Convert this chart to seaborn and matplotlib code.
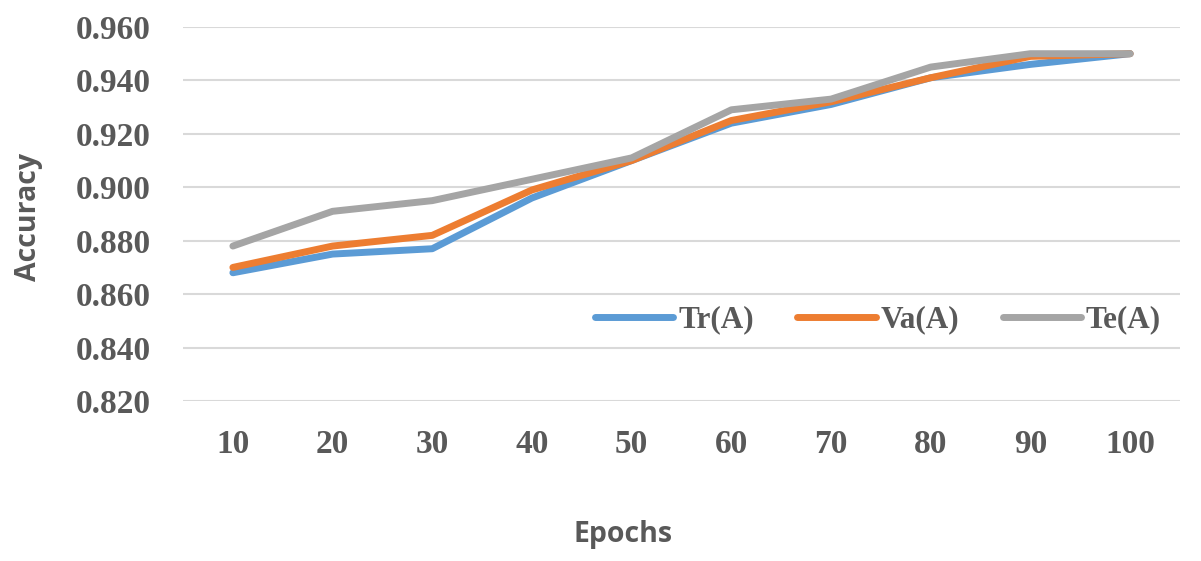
import numpy as np
import pandas as pd
import seaborn as sns
import matplotlib.pyplot as plt

epochs = [10, 20, 30, 40, 50, 60, 70, 80, 90, 100]
tr_acc = [0.868, 0.875, 0.877, 0.896, 0.910, 0.924, 0.931, 0.941, 0.946, 0.950]
va_acc = [0.870, 0.878, 0.882, 0.899, 0.910, 0.925, 0.932, 0.941, 0.949, 0.950]
te_acc = [0.878, 0.891, 0.895, 0.903, 0.911, 0.929, 0.933, 0.945, 0.950, 0.950]
series_names = ['Tr(A)', 'Va(A)', 'Te(A)']
colors = ['#5B9BD5', '#ED7D31', '#A5A5A5']

df = pd.DataFrame({'Epochs': epochs * 3,
                   'Accuracy': tr_acc + va_acc + te_acc,
                   'series': [s for s in series_names for _ in epochs]})

sns.set_style('white')
fig = plt.figure(figsize=(12.01, 5.61), dpi=100)
ax = fig.add_axes([0.1524, 0.2852, 0.8301, 0.6667])

sns.lineplot(data=df, x='Epochs', y='Accuracy', hue='series',
             palette=colors, linewidth=5, ax=ax, legend=True)
for line in ax.get_lines():
    line.set_solid_capstyle('round')

ax.set_xlim(5, 105)
ax.set_ylim(0.820, 0.960)
ax.set_xticks(epochs)
ax.set_yticks(np.arange(0.820, 0.961, 0.020))
ax.set_yticklabels(['{:.3f}'.format(v) for v in np.arange(0.820, 0.961, 0.020)])
ax.grid(axis='y', color='#D9D9D9', linewidth=1.5)
ax.set_axisbelow(True)
for sp in ax.spines.values():
    sp.set_visible(False)

tick_font = dict(family='Liberation Serif', weight='bold', size=24)
for lbl in ax.get_xticklabels() + ax.get_yticklabels():
    lbl.set_fontproperties(tick_font)
    lbl.set_color('#595959')
ax.tick_params(axis='both', length=0)
ax.tick_params(axis='y', pad=23)
ax.tick_params(axis='x', pad=20)

ax.set_xlabel('Epochs', fontsize=20.5, fontweight='bold', family='Open Sans',
              color='#595959')
ax.set_ylabel('Accuracy', fontsize=20.5, fontweight='bold', family='Open Sans',
              color='#595959')
ax.xaxis.set_label_coords(0.441, -0.358)
ax.yaxis.set_label_coords(-0.155, 0.492)
ax.xaxis.label.set_verticalalignment('center')
ax.yaxis.label.set_verticalalignment('center')

leg = ax.legend(loc='center', bbox_to_anchor=(0.697, 0.2166), ncol=3,
                frameon=False, handlelength=2.5, handletextpad=0.15,
                columnspacing=1.4, prop=dict(family='Liberation Serif', weight='bold', size=22.5))
for t in leg.get_texts():
    t.set_color('#595959')
for h in leg.get_lines():
    h.set_linewidth(5)
    h.set_solid_capstyle('round')

plt.savefig('out.png', dpi=100)
